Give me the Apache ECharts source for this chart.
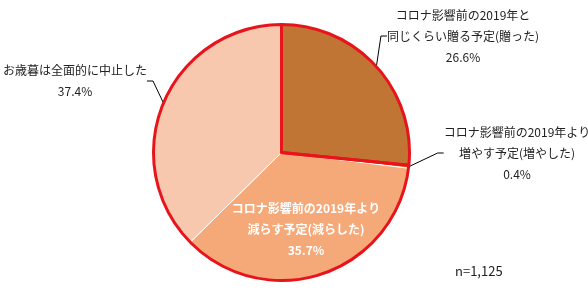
<!DOCTYPE html>
<html><head><meta charset="utf-8">
<script src="https://cdn.jsdelivr.net/npm/echarts@6/dist/echarts.min.js"></script>
<style>html,body{margin:0;padding:0;background:#fff}#c{width:588px;height:292px}</style>
</head><body><div id="c"></div>
<script>
const categories = [
  'コロナ影響前の2019年と\n同じくらい贈る予定(贈った)',
  'コロナ影響前の2019年より\n増やす予定(増やした)',
  'コロナ影響前の2019年より\n減らす予定(減らした)',
  'お歳暮は全面的に中止した'
];
const values = [26.6, 0.4, 35.7, 37.4];
const sampleNote = 'n=1,125';

const colors = ['#C07535', '#ED7D31', '#F5A878', '#F8C8AE'];
const labelPos = [
  {x: 463, y: 36},
  {x: 517, y: 153},
  {x: 306, y: 229},
  {x: 75, y: 81}
];
const FONT = '"Noto Sans CJK JP", "Noto Sans", sans-serif';
const center = [281.5, 152.5];
const radius = 128;

const chart = echarts.init(document.getElementById('c'), null, {renderer: 'canvas'});
const data = values.map((v, i) => ({
  name: categories[i],
  value: v,
  itemStyle: {color: colors[i]},
  label: i === 2 ? {color: '#fff', fontWeight: 'bold', position: 'inside'} : {},
  labelLine: i === 2 ? {show: false} : {show: true}
}));
// red outline grouping: "sending" group boundary (first slice vs. the rest)
const outlineData = [values[0], values[1] + values[2] + values[3]];

chart.setOption({
  animation: false,
  series: [
    {
      type: 'pie',
      center: center,
      radius: radius,
      startAngle: 90,
      clockwise: true,
      silent: true,
      itemStyle: {borderColor: '#fff', borderWidth: 1},
      label: {
        show: true,
        formatter: p => p.name + '\n' + p.value.toFixed(1) + '%',
        fontFamily: FONT,
        fontSize: 12,
        lineHeight: 21,
        color: '#222',
        align: 'center',
        overflow: 'none'
      },
      labelLine: {show: true, length: 20, length2: 6, lineStyle: {color: '#000', width: 1}},
      labelLayout: function (p) {
        const lp = labelPos[p.dataIndex];
        return {x: lp.x, y: lp.y, align: 'center', verticalAlign: 'middle'};
      },
      data: data
    },
    {
      type: 'pie',
      center: center,
      radius: radius,
      startAngle: 90,
      clockwise: true,
      silent: true,
      z: 5,
      label: {show: false},
      labelLine: {show: false},
      itemStyle: {color: 'rgba(0,0,0,0)', borderColor: '#E8141B', borderWidth: 3},
      data: outlineData.map(v => ({value: v}))
    }
  ],
  graphic: [{
    type: 'text',
    left: 455,
    top: 265,
    style: {text: sampleNote, font: '13px ' + FONT, fill: '#222'}
  }]
});
</script>
</body></html>
